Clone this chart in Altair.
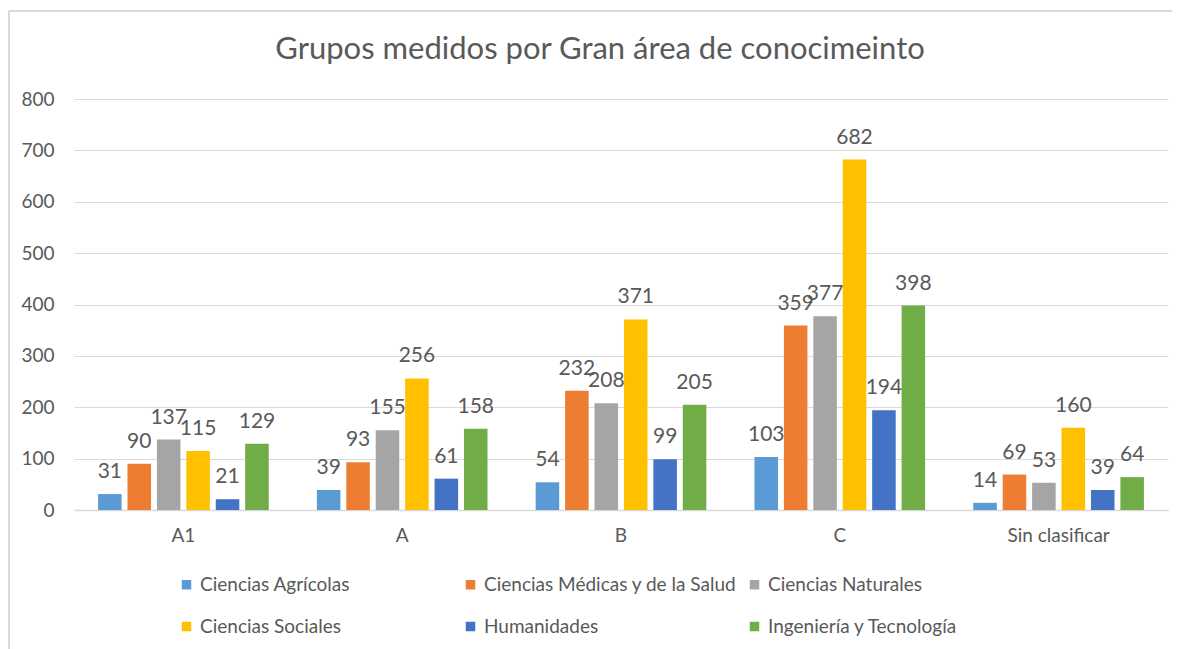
import altair as alt
import pandas as pd

categories = ["A1", "A", "B", "C", "Sin clasificar"]
series = ["Ciencias Agrícolas", "Ciencias Médicas y de la Salud", "Ciencias Naturales",
          "Ciencias Sociales", "Humanidades", "Ingeniería y Tecnología"]
colors = ["#5B9BD5", "#ED7D31", "#A5A5A5", "#FFC000", "#4472C4", "#70AD47"]

agricolas = [31, 39, 54, 103, 14]
medicas = [90, 93, 232, 359, 69]
naturales = [137, 155, 208, 377, 53]
sociales = [115, 256, 371, 682, 160]
humanidades = [21, 61, 99, 194, 39]
ingenieria = [129, 158, 205, 398, 64]

values = [agricolas, medicas, naturales, sociales, humanidades, ingenieria]
rows = []
for s, vals in zip(series, values):
    for c, v in zip(categories, vals):
        rows.append({"cat": c, "serie": s, "valor": v})
df = pd.DataFrame(rows)

FONT = "Lato"
GRAY = "#595959"

xscale = alt.Scale(paddingInner=0.22, paddingOuter=0.11)
x = alt.X("cat:N", sort=categories, title=None, scale=xscale,
          axis=alt.Axis(labelAngle=0, labelFontSize=19, labelColor=GRAY, labelFont=FONT,
                        ticks=False, domainColor="#D9D9D9", domainWidth=1.5, labelPadding=16))
xoff = alt.XOffset("serie:N", sort=series, scale=alt.Scale(paddingInner=0.2, paddingOuter=0.0))
y = alt.Y("valor:Q", title=None,
          scale=alt.Scale(domain=[0, 800], nice=False),
          axis=alt.Axis(values=[0, 100, 200, 300, 400, 500, 600, 700, 800],
                        labelFontSize=19, labelColor=GRAY, labelFont=FONT,
                        ticks=False, domain=False, gridColor="#D9D9D9", gridWidth=1.2,
                        labelPadding=20))

bars = alt.Chart(df).mark_bar().encode(
    x=x, xOffset=xoff, y=y,
    color=alt.Color("serie:N", sort=series,
                    scale=alt.Scale(domain=series, range=colors),
                    legend=alt.Legend(title=None, orient="none", legendX=103, legendY=476,
                                      direction="horizontal", columns=3, gridAlign="all",
                                      columnPadding=8, rowPadding=22, symbolType="square",
                                      symbolSize=90, symbolStrokeWidth=0, labelFontSize=19,
                                      labelColor=GRAY, labelFont=FONT, labelLimit=400,
                                      symbolOffset=0, labelOffset=4))
)

labels = alt.Chart(df).mark_text(dy=-22, fontSize=21, color=GRAY, font=FONT).encode(
    x=alt.X("cat:N", sort=categories, scale=xscale),
    xOffset=xoff, y="valor:Q", text="valor:Q"
)

border_left = alt.Chart(df).mark_rule(color="#D9D9D9", strokeWidth=2).encode(
    x=alt.value(-65), y=alt.value(-88), y2=alt.value(560)
)
border_top = alt.Chart(df).mark_rule(color="#D9D9D9", strokeWidth=2).encode(
    x=alt.value(-65), x2=alt.value(1110), y=alt.value(-88)
)

chart = alt.layer(bars, labels, border_left, border_top).properties(
    width=1094, height=411,
    padding={"left": 66, "top": 91, "right": 4, "bottom": 140},
    autosize=alt.AutoSizeParams(type="none"),
    title=alt.TitleParams("Grupos medidos por Gran área de conocimeinto", fontSize=31,
                          font=FONT, color=GRAY, fontWeight="normal", offset=-56, dx=-21,
                          anchor="middle"),
).configure_view(stroke=None)

chart.save("out.html", embed_options={"renderer": "svg", "actions": False})
